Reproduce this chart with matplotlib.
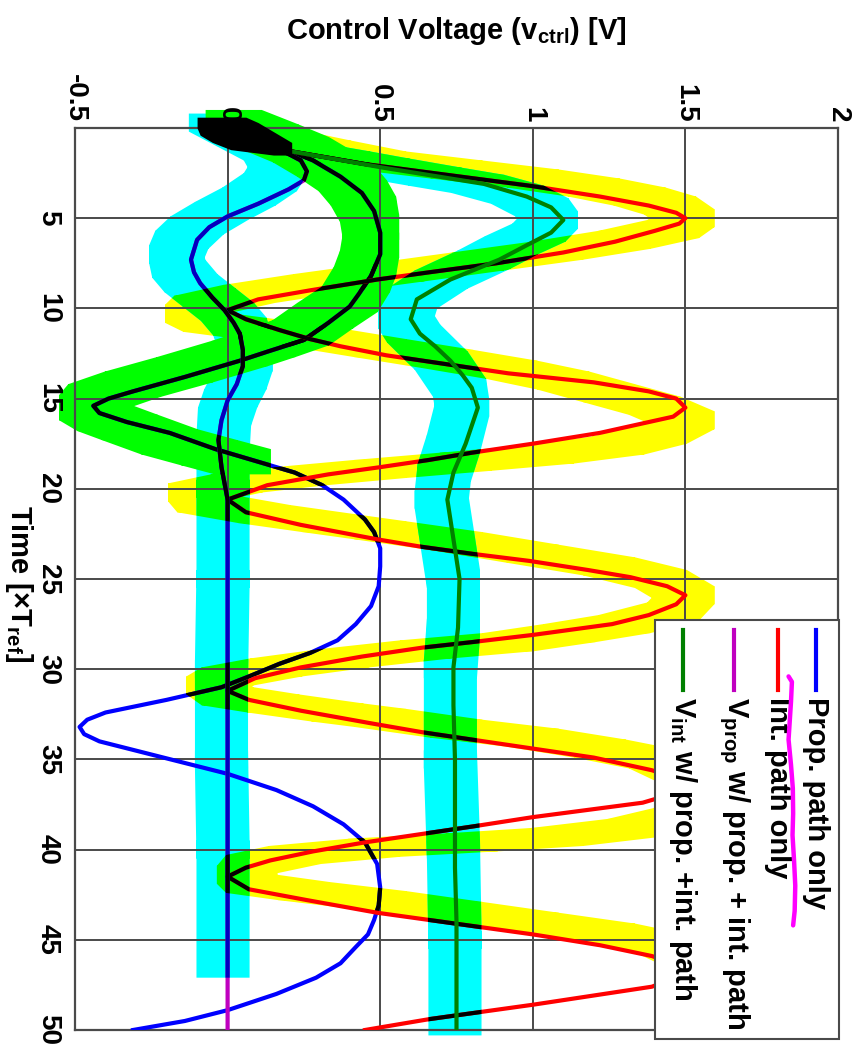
import numpy as np
import matplotlib
matplotlib.use("Agg")
import matplotlib.pyplot as plt
from matplotlib.path import Path
from matplotlib.patches import PathPatch, Rectangle

plt.rcParams['font.family'] = ['Liberation Sans', 'DejaVu Sans']
plt.rcParams['font.weight'] = 'bold'
plt.rcParams['mathtext.fontset'] = 'custom'
plt.rcParams['mathtext.rm'] = 'Liberation Sans:bold'
plt.rcParams['mathtext.it'] = 'Liberation Sans:bold'
plt.rcParams['mathtext.bf'] = 'Liberation Sans:bold'

# ---------------- data (time in T_ref, voltage in V) ----------------
red_t = [0.0, 0.5, 1.3, 2.0, 2.6, 3.2, 3.8, 4.3, 4.7, 5.0, 5.3, 5.7, 6.3, 6.9, 7.5, 8.0, 8.4, 9.0, 9.5, 10.1,
         10.6, 11.2, 11.7, 12.1, 12.6, 13.1, 13.6, 14.1, 14.6, 15.0, 15.5, 16.0, 16.9, 17.5, 18.0, 18.4, 18.8, 19.2, 19.8, 20.6,
         21.3, 22.0, 22.8, 23.2, 23.6, 24.0, 24.5, 24.9, 25.4, 25.9, 26.4, 27.0, 27.5, 28.1, 28.5, 28.8, 29.3, 29.9, 30.5, 31.2,
         31.7, 32.3, 33.0, 33.5, 34.0, 34.4, 34.9, 35.6, 36.0, 36.4, 36.8, 37.4, 38.2, 38.7, 39.1, 39.6, 40.1, 40.6, 41.0, 41.5,
         42.2, 42.8, 43.5, 43.9, 44.3, 44.7, 45.3, 45.9, 46.3, 46.7, 47.1, 47.6, 48.6, 49.0, 49.4, 50.0]
red_v = [0.00, 0.06, 0.21, 0.45, 0.72, 0.99, 1.22, 1.38, 1.47, 1.50, 1.48, 1.40, 1.27, 1.10, 0.88, 0.66, 0.49, 0.27, 0.10, 0.00,
         0.06, 0.17, 0.27, 0.37, 0.52, 0.72, 0.92, 1.20, 1.38, 1.47, 1.50, 1.46, 1.22, 1.00, 0.80, 0.66, 0.50, 0.33, 0.13, 0.00,
         0.06, 0.24, 0.49, 0.63, 0.80, 0.99, 1.18, 1.32, 1.44, 1.50, 1.47, 1.38, 1.26, 1.00, 0.80, 0.64, 0.44, 0.24, 0.09, 0.00,
         0.07, 0.24, 0.47, 0.64, 0.84, 1.00, 1.20, 1.39, 1.46, 1.50, 1.48, 1.36, 1.00, 0.81, 0.65, 0.45, 0.28, 0.14, 0.06, 0.00,
         0.07, 0.26, 0.49, 0.66, 0.83, 1.00, 1.22, 1.39, 1.46, 1.50, 1.47, 1.39, 1.00, 0.83, 0.66, 0.45]

blue_t = [0.0, 0.8, 1.8, 2.7, 3.6, 4.6, 5.8, 7.0, 8.2, 9.2, 9.9, 10.8, 11.75, 12.4, 12.9, 13.8, 14.6, 15.0, 15.4, 15.8, 16.3, 16.9,
          17.8, 18.5, 19.1, 19.8, 20.6, 21.7, 22.4, 23.3, 24.3, 25.4, 26.5, 27.5, 28.4, 29.1, 29.7, 30.4, 31.0, 31.7, 32.4, 32.8, 33.2,
          33.6, 34.0, 34.9, 35.8, 36.7, 37.6, 38.6, 39.6, 40.8, 42.1, 43.1, 43.9, 44.7, 45.4, 46.3, 47.1, 48.0, 48.9, 49.5, 50.0]
blue_v = [0.00, 0.14, 0.28, 0.37, 0.44, 0.48, 0.50, 0.50, 0.47, 0.43, 0.40, 0.33, 0.25, 0.13, 0.04, -0.14, -0.31, -0.39, -0.44, -0.42, -0.33, -0.19,
          -0.04, 0.10, 0.22, 0.31, 0.38, 0.45, 0.48, 0.50, 0.50, 0.495, 0.47, 0.42, 0.36, 0.27, 0.17, 0.07, -0.02, -0.20, -0.40, -0.46, -0.485,
          -0.47, -0.42, -0.21, 0.00, 0.16, 0.28, 0.38, 0.45, 0.49, 0.50, 0.495, 0.48, 0.46, 0.42, 0.37, 0.29, 0.16, 0.00, -0.14, -0.31]

mag_t = [0.0, 1.0, 1.8, 2.4, 2.9, 3.4, 4.2, 4.9, 5.5, 6.2, 7.3, 8.0, 8.6, 9.4, 10.1, 10.8, 11.4, 12.3, 13.2, 14.2,
         15.1, 16.2, 17.3, 18.8, 20.6, 25.0, 30.0, 35.0, 40.0, 45.0, 50.0]
mag_v = [0.00, 0.15, 0.24, 0.26, 0.25, 0.20, 0.10, 0.00, -0.06, -0.10, -0.12, -0.11, -0.09, -0.05, -0.01, 0.02, 0.04, 0.05, 0.05, 0.03,
         0.00, -0.02, -0.03, -0.02, 0.00, 0.00, 0.00, 0.00, 0.00, 0.00, 0.00]

grn_t = [0.0, 0.7, 1.3, 2.2, 3.1, 3.8, 4.4, 5.1, 5.8, 6.5, 7.3, 8.4, 9.5, 10.6, 11.4, 12.1, 12.9, 13.7, 14.4, 15.5,
         16.5, 17.5, 19.1, 20.6, 22.8, 25.0, 27.7, 29.9, 32.0, 35.0, 38.0, 41.0, 44.0, 47.0, 50.0]
grn_v = [0.00, 0.10, 0.21, 0.51, 0.84, 0.98, 1.06, 1.10, 1.06, 0.98, 0.89, 0.73, 0.62, 0.60, 0.63, 0.68, 0.73, 0.77, 0.80, 0.82,
         0.80, 0.78, 0.74, 0.72, 0.74, 0.76, 0.755, 0.74, 0.74, 0.745, 0.745, 0.745, 0.75, 0.75, 0.75]

# hand-drawn highlighter strokes (centre lines)
hl_yellow_t = [0.0, 0.6, 1.2, 1.8, 2.3, 2.8, 3.3, 3.8, 4.3, 5.0, 5.6, 6.2, 6.8, 7.4, 8.0, 8.6, 9.2, 9.8, 10.3,
               10.8, 11.2, 11.7, 12.2, 12.8, 13.4, 14.0, 14.7, 15.4, 16.2, 17.0, 17.6, 18.1, 18.5, 18.9, 19.3, 19.7, 20.2,
               20.8, 21.4, 21.9, 22.3, 22.9, 23.6, 24.3, 25.0, 25.9, 26.8, 27.5, 28.0, 28.5, 28.9, 29.4, 29.9, 30.4, 30.9,
               31.5, 31.9, 32.4, 32.7, 33.3, 33.8, 34.4, 35.0, 35.8, 36.6, 37.4, 38.2, 38.8, 39.3, 39.6, 39.9, 40.3, 40.8, 41.4,
               41.9, 42.3, 42.8, 43.4, 44.0, 44.6, 45.2, 46.0, 46.8]
hl_yellow_v = [0.02, 0.15, 0.32, 0.50, 0.75, 1.00, 1.20, 1.35, 1.45, 1.51, 1.46, 1.30, 1.08, 0.82, 0.56, 0.30, 0.07, -0.09, -0.12,
               -0.06, 0.12, 0.32, 0.50, 0.72, 0.93, 1.10, 1.25, 1.40, 1.51, 1.42, 1.28, 1.05, 0.78, 0.50, 0.24, 0.03, -0.11,
               -0.08, 0.12, 0.33, 0.50, 0.75, 1.00, 1.25, 1.42, 1.51, 1.46, 1.30, 1.12, 0.92, 0.65, 0.38, 0.16, 0.00, -0.05,
               0.00, 0.15, 0.36, 0.50, 0.75, 1.00, 1.22, 1.40, 1.50, 1.54, 1.54, 1.48, 1.33, 1.08, 0.80, 0.48, 0.22, 0.08, 0.05,
               0.08, 0.25, 0.50, 0.75, 1.00, 1.25, 1.42, 1.52, 1.55]

hl_cyanA_t = [0.8, 1.3, 1.8, 2.2, 2.7, 3.1, 3.7, 4.4, 5.1, 5.8, 6.5, 7.3, 8.4, 9.5, 10.6, 11.4, 12.9, 14.4, 15.5, 17.5,
              19.1, 20.6, 22.8, 25.0, 27.7, 30.0, 35.0, 40.0, 45.0, 49.8]
hl_cyanA_v = [0.12, 0.21, 0.38, 0.51, 0.68, 0.82, 0.95, 1.03, 1.06, 1.02, 0.93, 0.84, 0.70, 0.60, 0.58, 0.61, 0.70, 0.76, 0.77, 0.74,
              0.71, 0.70, 0.72, 0.74, 0.74, 0.73, 0.73, 0.74, 0.745, 0.745]

hl_cyanB_t = [-0.3, 0.5, 1.3, 2.2, 3.0, 3.8, 4.6, 5.4, 6.2, 7.0, 7.8, 8.6, 9.4, 10.2, 11.0, 12.0, 13.0, 14.0, 15.0, 16.0,
              17.5, 20.0, 25.0, 30.0, 35.0, 40.0, 46.6]
hl_cyanB_v = [-0.04, 0.05, 0.14, 0.17, 0.14, 0.07, -0.02, -0.10, -0.15, -0.17, -0.16, -0.12, -0.06, 0.00, 0.04, 0.06, 0.06, 0.04, 0.01, -0.01,
              -0.015, -0.015, -0.015, -0.02, -0.02, -0.015, -0.015]

hl_green_t = [-0.3, 0.5, 1.2, 2.0, 2.8, 3.6, 4.5, 5.5, 6.5, 7.5, 8.4, 9.5, 10.4, 11.35, 12.0, 12.5, 13.4, 14.2, 14.9, 15.5,
              16.1, 16.6, 17.4, 18.0, 18.5]
hl_green_v = [0.02, 0.14, 0.24, 0.32, 0.39, 0.43, 0.46, 0.47, 0.47, 0.46, 0.44, 0.40, 0.32, 0.24, 0.13, 0.04, -0.14, -0.31, -0.43, -0.46,
              -0.40, -0.32, -0.19, -0.06, 0.05]

# black ink blob at the start
blob_t = [-0.6, -0.3, 0.0, 0.4, 0.8, 1.2, 1.5]
blob_left = [-0.10, -0.10, -0.10, -0.09, -0.05, 0.01, 0.15]
blob_right = [0.06, 0.10, 0.13, 0.17, 0.21, 0.21, 0.21]

# magenta hand-drawn underline in the legend
scrib_t = [30.4, 30.7, 31.8, 33.9, 35.3, 36.6, 38.0, 39.2, 40.6, 42.0, 43.4, 44.2]
scrib_v = [1.838, 1.849, 1.846, 1.838, 1.846, 1.852, 1.853, 1.851, 1.856, 1.860, 1.858, 1.853]

xticks = [-0.5, 0, 0.5, 1, 1.5, 2]
xticklabels = ['-0.5', '0', '0.5', '1', '1.5', '2']
yticks = [5, 10, 15, 20, 25, 30, 35, 40, 45, 50]

legend_labels = ['Prop. path only', 'Int. path only',
                 'V$_{\\mathrm{prop}}$ w/ prop. + int. path',
                 'V$_{\\mathrm{int}}$ w/ prop. +int. path']
legend_colors = ['#0000FF', '#FF0000', '#BF00BF', '#008000']

# ---------------- helpers ----------------
def _hull(points):
    pts = sorted(set(points))
    def cross(o, a, b):
        return (a[0] - o[0]) * (b[1] - o[1]) - (a[1] - o[1]) * (b[0] - o[0])
    lower, upper = [], []
    for p in pts:
        while len(lower) >= 2 and cross(lower[-2], lower[-1], p) <= 0:
            lower.pop()
        lower.append(p)
    for p in reversed(pts):
        while len(upper) >= 2 and cross(upper[-2], upper[-1], p) <= 0:
            upper.pop()
        upper.append(p)
    return lower[:-1] + upper[:-1]


def chisel_path(t, v, hw, hh):
    """Outline of a chisel-tip marker stroke (rectangle tip swept along the path)."""
    verts, codes = [], []
    for i in range(len(t) - 1):
        corners = []
        for tt, vv in ((t[i], v[i]), (t[i + 1], v[i + 1])):
            for dv in (-hw, hw):
                for dt in (-hh, hh):
                    corners.append((vv + dv, tt + dt))
        h = _hull(corners)
        verts += h + [h[0]]
        codes += [Path.MOVETO] + [Path.LINETO] * (len(h) - 1) + [Path.CLOSEPOLY]
    return Path(verts, codes)


# ---------------- figure ----------------
W, H = 859, 1052
fig = plt.figure(figsize=(W / 100, H / 100), dpi=100)
ax = fig.add_axes([75 / W, 1 - 1030 / H, 763 / W, 902 / H])
ax.set_xlim(-0.5, 2)
ax.set_ylim(50, 0)

# highlighter bands
p_yel = chisel_path(hl_yellow_t, hl_yellow_v, 0.085, 0.5)
p_cyan = Path.make_compound_path(chisel_path(hl_cyanA_t, hl_cyanA_v, 0.087, 0.5),
                                 chisel_path(hl_cyanB_t, hl_cyanB_v, 0.087, 0.5))
p_grn = chisel_path(hl_green_t, hl_green_v, 0.092, 0.7)

yel = PathPatch(p_yel, facecolor='#FFFF00', edgecolor='none', transform=ax.transData, zorder=1.0)
ax.add_patch(yel); yel.set_clip_on(False)
cya = PathPatch(p_cyan, facecolor='#00FFFF', edgecolor='none', transform=ax.transData, zorder=1.1)
ax.add_patch(cya); cya.set_clip_on(False)
ov = PathPatch(p_cyan, facecolor='#00FF00', edgecolor='none', transform=ax.transData, zorder=1.2)
ax.add_patch(ov); ov.set_clip_path(yel); ov.set_clip_box(None)
grp = PathPatch(p_grn, facecolor='#00FF00', edgecolor='none', transform=ax.transData, zorder=1.3)
ax.add_patch(grp); grp.set_clip_on(False)

LW = 3.0

def line_with_ink(t, v, color, z, ink):
    ax.plot(v, t, color=color, lw=LW, zorder=z, solid_joinstyle='round')
    for k, (c, patch) in enumerate(ink):
        ln, = ax.plot(v, t, color=c, lw=LW, zorder=z + 0.01 * (k + 1), solid_joinstyle='round')
        ln.set_clip_path(patch)

line_with_ink(blue_t, blue_v, '#0000FF', 3.0, [('black', yel), ('black', grp)])
line_with_ink(red_t, red_v, '#FF0000', 3.2, [('black', cya), ('black', grp)])
line_with_ink(mag_t, mag_v, '#BF00BF', 3.4, [('#0000BF', cya), ('black', yel), ('black', grp)])
ax.plot(grn_v, grn_t, color='#008000', lw=LW, zorder=3.6, solid_joinstyle='round')

ax.fill_betweenx(blob_t, blob_left, blob_right, color='black', lw=0, zorder=4.5, clip_on=False)

# axes styling
ax.set_axisbelow(False)
ax.grid(True, color='#4a4a4a', lw=1.4)
for s in ax.spines.values():
    s.set_color('#4a4a4a'); s.set_linewidth(1.6)
ax.xaxis.tick_top()
ax.set_xticks(xticks)
ax.set_xticklabels(xticklabels)
ax.set_yticks(yticks)
ax.set_yticklabels([str(v) for v in yticks])
ax.tick_params(axis='x', length=0, pad=4, labelsize=20, rotation=-90)
ax.tick_params(axis='y', length=0, pad=10, labelsize=20, rotation=-90)
for lab in ax.get_yticklabels():
    lab.set_va('center')
for lab in ax.get_xticklabels() + ax.get_yticklabels():
    lab.set_fontweight('bold')

fig.text(456 / W, 1 - 39 / H, 'Control Voltage (v$_{\\mathrm{ctrl}}$) [V]', ha='center', va='baseline',
         fontsize=21, fontweight='bold')
fig.text(11 / W, 1 - 584 / H, 'Time [\u00d7T$_{\\mathrm{ref}}$]', rotation=-90, rotation_mode='anchor',
         ha='center', va='baseline', fontsize=21, fontweight='bold')

# legend (rotated with the figure)
ax.add_patch(Rectangle((0.760, -0.01), 0.241, 0.465, transform=ax.transAxes, facecolor='white',
                       edgecolor='#4a4a4a', lw=1.5, zorder=6, clip_on=False))
leg_x = [0.971, 0.921, 0.864, 0.797]
for x, lab, c in zip(leg_x, legend_labels, legend_colors):
    ax.plot([x, x], [0.4435, 0.377], transform=ax.transAxes, color=c, lw=3, zorder=7, clip_on=False)
    ax.text(x, 0.369, lab, transform=ax.transAxes, rotation=-90, rotation_mode='anchor',
            ha='left', va='center', fontsize=21, fontweight='bold', zorder=7)

ax.plot(scrib_v, scrib_t, color='#FF00FF', lw=3.2, zorder=8, clip_on=False, solid_capstyle='round')

fig.savefig('out.png', dpi=100)
